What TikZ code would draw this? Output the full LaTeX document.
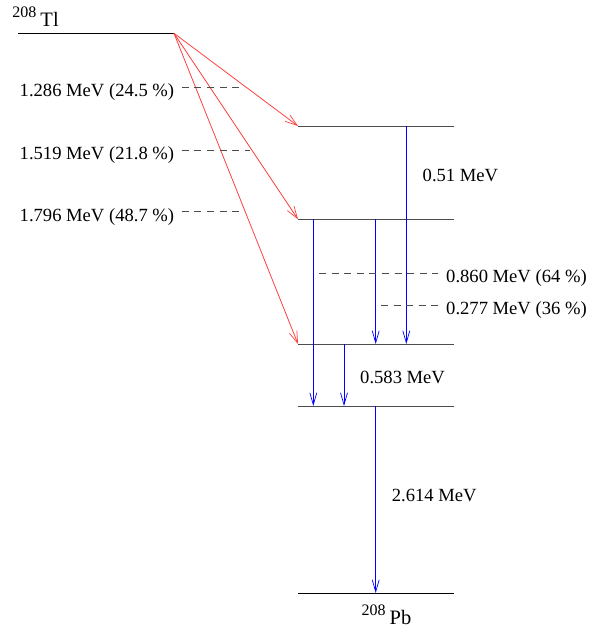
\documentclass[tikz,border=0pt]{standalone}
\usepackage{fontspec}
\setmainfont{Liberation Serif}
\usetikzlibrary{arrows.meta}
\begin{document}
\begin{tikzpicture}[x=1pt,y=-1pt,
  level/.style={draw=black!70,line width=1pt},
  toplevel/.style={draw=black,line width=1pt},
  decay/.style={draw=red!75,line width=0.8pt,-{Straight Barb[length=12pt,width=8pt,line width=0.7pt]}},
  gamma/.style={draw=blue,line width=1pt,-{Straight Barb[length=12pt,width=7pt,line width=0.7pt]}},
  guide/.style={draw=black!70,line width=1pt,dash pattern=on 7pt off 5.6pt},
  lbl/.style={inner sep=0pt,anchor=base west,font=\fontsize{18.6}{20}\selectfont},
  nuc/.style={inner sep=0pt,anchor=base west,font=\fontsize{20.5}{22}\selectfont}]
\useasboundingbox (0,0) rectangle (589,629);
% levels
\coordinate (TlL) at (18,33.3); \coordinate (TlR) at (174,33.3);
\draw[toplevel] (TlL) -- (TlR);
\coordinate (L1a) at (298,126); \coordinate (L1b) at (454,126);
\coordinate (L2a) at (298,219.3); \coordinate (L2b) at (454,219.3);
\coordinate (L3a) at (298,344); \coordinate (L3b) at (454,344);
\coordinate (L4a) at (298,406); \coordinate (L4b) at (454,406);
\coordinate (L5a) at (298,593); \coordinate (L5b) at (454,593);
\draw[level] (L1a) -- (L1b);
\draw[level] (L2a) -- (L2b);
\draw[level] (L3a) -- (L3b);
\draw[level] (L4a) -- (L4b);
\draw[toplevel] (L5a) -- (L5b);
% nuclide labels
\node[nuc] (tl) at (12.3,26) {{\fontsize{16}{16}\selectfont\raisebox{8.5pt}{208}}\kern4pt Tl};
\node[nuc] (pb) at (361.5,624.3) {{\fontsize{16}{16}\selectfont\raisebox{8.5pt}{208}}\kern4pt Pb};
% beta decays
\draw[decay] (TlR) -- (L1a);
\draw[decay] (TlR) -- (L2a);
\draw[decay] (TlR) -- (L3a);
% beta labels
\node[lbl] (b1) at (19.5,96) {1.286 MeV (24.5 \%)};
\node[lbl] (b2) at (19.5,159) {1.519 MeV (21.8 \%)};
\node[lbl] (b3) at (19.5,221) {1.796 MeV (48.7 \%)};
\coordinate (d1a) at (181.7,87.3); \coordinate (d1b) at (244,87.3);
\coordinate (d2a) at (181.7,150); \coordinate (d2b) at (250,150);
\coordinate (d3a) at (181.7,211.7); \coordinate (d3b) at (244,211.7);
\draw[guide] (d1a) -- (d1b);
\draw[guide] (d2a) -- (d2b);
\draw[guide] (d3a) -- (d3b);
% gamma transitions
\coordinate (g1s) at (406.3,126); \coordinate (g1e) at (406.3,344);
\coordinate (g2s) at (375.7,219.3); \coordinate (g2e) at (375.7,344);
\coordinate (g3s) at (313.3,219.3); \coordinate (g3e) at (313.3,406);
\coordinate (g4s) at (344,344); \coordinate (g4e) at (344,406);
\coordinate (g5s) at (375.7,406); \coordinate (g5e) at (375.7,593);
\draw[gamma] (g1s) -- (g1e);
\draw[gamma] (g2s) -- (g2e);
\draw[gamma] (g3s) -- (g3e);
\draw[gamma] (g4s) -- (g4e);
\draw[gamma] (g5s) -- (g5e);
% branch guides
\coordinate (e1a) at (319,273.7); \coordinate (e1b) at (438,273.7);
\coordinate (e2a) at (381,305); \coordinate (e2b) at (438,305);
\draw[guide] (e1a) -- (e1b);
\draw[guide] (e2a) -- (e2b);
% gamma labels
\node[lbl] (t1) at (422.5,181.7) {0.51 MeV};
\node[lbl] (t2) at (446,282.7) {0.860 MeV (64 \%)};
\node[lbl] (t3) at (446,314) {0.277 MeV (36 \%)};
\node[lbl] (t4) at (360,383) {0.583 MeV};
\node[lbl] (t5) at (391.7,501) {2.614 MeV};
\end{tikzpicture}
\end{document}
